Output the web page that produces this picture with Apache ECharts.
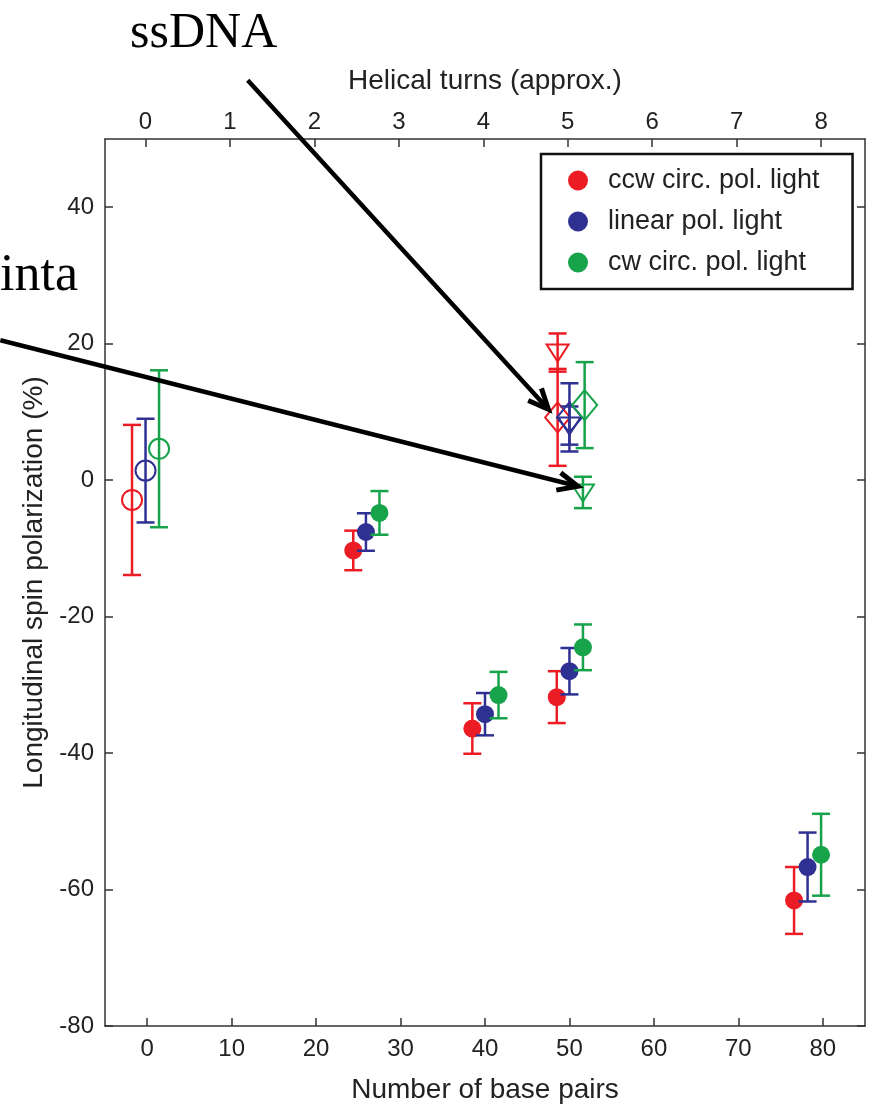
<!DOCTYPE html>
<html><head><meta charset="utf-8">
<script src="https://cdn.jsdelivr.net/npm/echarts@6/dist/echarts.min.js"></script>
<style>html,body{margin:0;padding:0;background:#fff}#c{width:876px;height:1109px}</style>
</head><body><div id="c"></div>
<script>
// ---------- data ----------
const seriesNames = ['ccw circ. pol. light', 'linear pol. light', 'cw circ. pol. light'];
const seriesColors = ['#ec1c24', '#2e3192', '#16a34a'];
const bpTicks = [0, 10, 20, 30, 40, 50, 60, 70, 80];
const turnTicks = [0, 1, 2, 3, 4, 5, 6, 7, 8];
const yTicks = [-80, -60, -40, -20, 0, 20, 40];

// dsDNA (filled circles): base pairs, polarization (%), error
const ccwBp  = [24.4, 38.5, 48.5, 76.6];
const ccwVal = [-10.3, -36.4, -31.8, -61.6];
const ccwErr = [2.9, 3.7, 3.8, 4.9];
const linBp  = [25.9, 40.0, 50.0, 78.2];
const linVal = [-7.6, -34.3, -28.0, -56.7];
const linErr = [2.75, 3.1, 3.4, 5.05];
const cwBp   = [27.5, 41.6, 51.6, 79.8];
const cwVal  = [-4.8, -31.5, -24.5, -54.9];
const cwErr  = [3.2, 3.4, 3.35, 6.0];

// open symbols, one value per series (ccw, linear, cw)
const circleBp  = [-1.8, -0.2, 1.4];
const circleVal = [-2.9, 1.4, 4.6];
const circleErr = [11.0, 7.6, 11.5];
const diamondBp  = [48.6, 50.0, 51.8];
const diamondVal = [9.2, 9.2, 11.0];
const diamondErr = [7.1, 5.0, 6.3];
const triBp  = [48.6, 50.0, 51.6];
const triVal = [18.7, 8.0, -1.8];
const triErr = [2.8, 2.8, 2.3];

// annotation arrows (data coordinates): from -> to
const arrowFrom = [[11.9, 58.6], [-17.4, 20.5]];
const arrowTo   = [[47.5, 10.4], [51.0, -0.9]];

// ---------- chart ----------
const FONT = "'Liberation Sans', Arial, Helvetica, sans-serif";
const filled = [[ccwBp, ccwVal, ccwErr], [linBp, linVal, linErr], [cwBp, cwVal, cwErr]];

function buildData(i) {
  const rows = [];
  const [b, v, e] = filled[i];
  b.forEach((x, k) => rows.push([x, v[k], e[k], 0]));
  rows.push([circleBp[i], circleVal[i], circleErr[i], 1]);
  rows.push([diamondBp[i], diamondVal[i], diamondErr[i], 2]);
  rows.push([triBp[i], triVal[i], triErr[i], 3]);
  return rows;
}

function renderItem(params, api) {
  const x = api.value(0), y = api.value(1), e = api.value(2), kind = api.value(3);
  const c = api.coord([x, y]);
  const t = api.coord([x, y + e]);
  const b = api.coord([x, y - e]);
  const color = api.visual('color');
  const cw = 9, lw = 2.5;
  const ls = { stroke: color, lineWidth: lw, fill: null };
  const ch = [
    { type: 'line', shape: { x1: c[0], y1: t[1], x2: c[0], y2: b[1] }, style: ls },
    { type: 'line', shape: { x1: c[0] - cw, y1: t[1], x2: c[0] + cw, y2: t[1] }, style: ls },
    { type: 'line', shape: { x1: c[0] - cw, y1: b[1], x2: c[0] + cw, y2: b[1] }, style: ls }
  ];
  const os = { stroke: color, lineWidth: 2, fill: 'none' };
  if (kind === 0) {
    ch.push({ type: 'circle', shape: { cx: c[0], cy: c[1], r: 9 }, style: { fill: color, stroke: null } });
  } else if (kind === 1) {
    ch.push({ type: 'circle', shape: { cx: c[0], cy: c[1], r: 10 }, style: os });
  } else if (kind === 2) {
    ch.push({ type: 'polygon', shape: { points: [[c[0], c[1] - 15], [c[0] + 12.5, c[1]], [c[0], c[1] + 15], [c[0] - 12.5, c[1]]] }, style: os });
  } else {
    ch.push({ type: 'polygon', shape: { points: [[c[0] - 11, c[1] - 8], [c[0] + 11, c[1] - 8], [c[0], c[1] + 9]] }, style: os });
  }
  return { type: 'group', children: ch };
}

const axisLineStyle = { color: '#333', width: 1.5 };
const labelStyle = { fontSize: 24, color: '#222', fontFamily: FONT };
const nameStyle = { fontSize: 28, color: '#222', fontFamily: FONT };

const chart = echarts.init(document.getElementById('c'), null, { renderer: 'canvas' });
const option = {
  backgroundColor: '#fff',
  animation: false,
  grid: { left: 105, right: 11, top: 139, bottom: 80, containLabel: false },
  legend: {
    orient: 'vertical', left: 541, top: 154,
    padding: [13, 33, 13, 27],
    itemWidth: 50, itemHeight: 20, itemGap: 14,
    borderColor: '#111', borderWidth: 2.5,
    icon: 'circle',
    textStyle: { fontSize: 27, color: '#222', fontFamily: FONT },
    data: seriesNames
  },
  xAxis: [
    {
      type: 'value', position: 'bottom', min: -5, max: 85,
      axisLine: { show: true, onZero: false, lineStyle: axisLineStyle },
      axisTick: { show: true, inside: true, length: 8, customValues: bpTicks, lineStyle: axisLineStyle },
      axisLabel: { customValues: bpTicks, margin: 11, ...labelStyle },
      splitLine: { show: false },
      name: 'Number of base pairs', nameLocation: 'middle', nameGap: 50, nameTextStyle: nameStyle
    },
    {
      type: 'value', position: 'top', min: -0.48, max: 8.52,
      axisLine: { show: true, onZero: false, lineStyle: axisLineStyle },
      axisTick: { show: true, inside: true, length: 8, customValues: turnTicks, lineStyle: axisLineStyle },
      axisLabel: { customValues: turnTicks, margin: 5, ...labelStyle },
      splitLine: { show: false },
      name: 'Helical turns (approx.)', nameLocation: 'middle', nameGap: 44, nameTextStyle: nameStyle
    }
  ],
  yAxis: [
    {
      type: 'value', position: 'left', min: -80, max: 50,
      axisLine: { show: true, onZero: false, lineStyle: axisLineStyle },
      axisTick: { show: true, inside: true, length: 8, customValues: yTicks, lineStyle: axisLineStyle },
      axisLabel: { customValues: yTicks, margin: 11, ...labelStyle },
      splitLine: { show: false },
      name: 'Longitudinal spin polarization (%)', nameLocation: 'middle', nameGap: 55, nameRotate: 90, nameTextStyle: nameStyle
    },
    {
      type: 'value', position: 'right', min: -80, max: 50,
      axisLine: { show: true, onZero: false, lineStyle: axisLineStyle },
      axisTick: { show: true, inside: true, length: 8, customValues: yTicks, lineStyle: axisLineStyle },
      axisLabel: { show: false },
      splitLine: { show: false }
    }
  ],
  series: seriesNames.map((name, i) => ({
    name: name,
    type: 'custom',
    xAxisIndex: 0, yAxisIndex: 0,
    itemStyle: { color: seriesColors[i] },
    encode: { x: 0, y: 1 },
    renderItem: renderItem,
    data: buildData(i),
    z: 2 + i
  }))
};
chart.setOption(option);

// annotations
function arrowGraphics() {
  const els = [];
  arrowFrom.forEach((f, i) => {
    const p0 = chart.convertToPixel({ xAxisIndex: 0, yAxisIndex: 0 }, f);
    const p1 = chart.convertToPixel({ xAxisIndex: 0, yAxisIndex: 0 }, arrowTo[i]);
    const dx = p1[0] - p0[0], dy = p1[1] - p0[1];
    const L = Math.sqrt(dx * dx + dy * dy);
    const ux = dx / L, uy = dy / L, nx = -uy, ny = ux;
    const hl = 20, hw = 9;
    const bx = p1[0] - hl * ux, by = p1[1] - hl * uy;
    els.push({ type: 'line', z: 100, shape: { x1: p0[0], y1: p0[1], x2: p1[0] - 2 * ux, y2: p1[1] - 2 * uy }, style: { stroke: '#000', lineWidth: 4.5 } });
    els.push({ type: 'polyline', z: 100, shape: { points: [[bx + hw * nx, by + hw * ny], [p1[0], p1[1]], [bx - hw * nx, by - hw * ny]] }, style: { stroke: '#000', lineWidth: 5, fill: null, lineJoin: 'miter' } });
  });
  els.push({ type: 'text', z: 100, left: 130, top: 9, style: { text: 'ssDNA', font: "50px 'Liberation Serif', 'Times New Roman', serif", fill: '#000' } });
  els.push({ type: 'text', z: 100, left: 0, top: 250, style: { text: 'inta', font: "52px 'Liberation Serif', 'Times New Roman', serif", fill: '#000' } });
  return els;
}
chart.setOption({ graphic: arrowGraphics() });
</script>
</body></html>
